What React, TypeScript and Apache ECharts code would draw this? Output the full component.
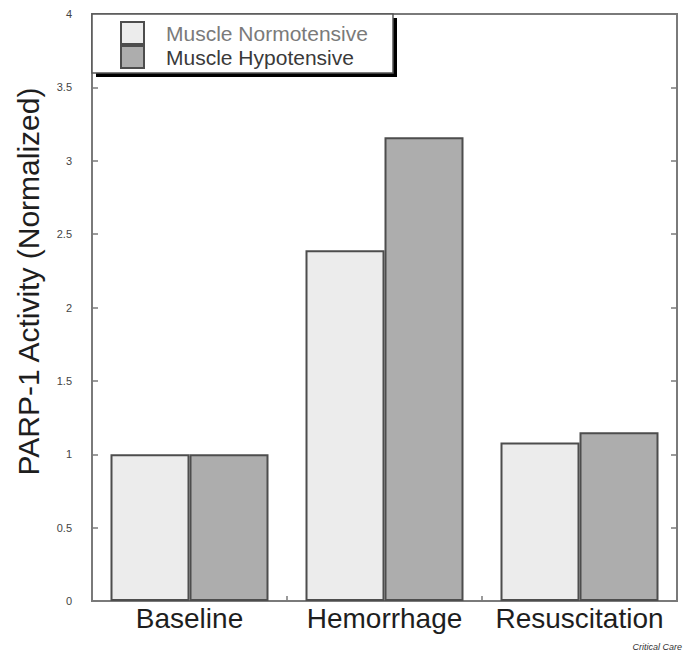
import React, { useEffect, useRef } from "react";
import * as echarts from "echarts";

const categories = ["Baseline", "Hemorrhage", "Resuscitation"];
const normotensive = [1.0, 2.39, 1.08];
const hypotensive = [1.0, 3.16, 1.15];
const yTicks = { min: 0, max: 4, interval: 0.5 };
const seriesNames = ["Muscle Normotensive", "Muscle Hypotensive"];

const FONT = '"Liberation Sans", Arial, Helvetica, sans-serif';

export default function App() {
  const ref = useRef<HTMLDivElement>(null);
  useEffect(() => {
    if (!ref.current) return;
    document.body.style.margin = "0";
    const chart = echarts.init(ref.current, undefined, { renderer: "svg" });
    const barBorder = { borderColor: "#4d4d4d", borderWidth: 2 };
    chart.setOption({
      animation: false,
      backgroundColor: "#ffffff",
      textStyle: { fontFamily: FONT },
      grid: {
        left: 92,
        right: 8,
        top: 14,
        bottom: 51,
        show: true,
        borderColor: "#7a7a7a",
        borderWidth: 2,
        backgroundColor: "transparent",
      },
      legend: {
        orient: "vertical",
        left: 120,
        top: 21,
        padding: 0,
        itemGap: 0,
        itemWidth: 23,
        itemHeight: 22,
        icon: "rect",
        z: 10,
        data: [
          { name: seriesNames[0], textStyle: { color: "#7a7a7a" } },
          { name: seriesNames[1], textStyle: { color: "#3a3a3a" } },
        ],
        textStyle: {
          fontFamily: FONT,
          fontSize: 21,
          padding: [0, 0, 0, 17],
        },
      },
      graphic: [
        {
          type: "rect",
          z: 5,
          shape: { x: 96, y: 18, width: 301, height: 59 },
          style: { fill: "#000000" },
        },
        {
          type: "rect",
          z: 6,
          shape: { x: 92, y: 14, width: 301, height: 59 },
          style: { fill: "#ffffff", stroke: "#555555", lineWidth: 1.5 },
        },
        {
          type: "text",
          x: 682,
          y: 647,
          z: 10,
          style: {
            text: "Critical Care",
            fontSize: 9,
            fontStyle: "italic",
            fontFamily: FONT,
            fill: "#333333",
            align: "right",
            verticalAlign: "middle",
          },
        },
      ],
      xAxis: {
        type: "category",
        data: categories,
        axisLine: { show: true, lineStyle: { color: "#7a7a7a", width: 2 } },
        axisTick: {
          show: true,
          inside: true,
          length: 5,
          alignWithLabel: false,
          lineStyle: { color: "#7a7a7a", width: 1.5 },
        },
        axisLabel: {
          color: "#1e1e1e",
          fontSize: 28,
          margin: 3,
          interval: 0,
          hideOverlap: false,
          fontFamily: FONT,
        },
        splitLine: { show: false },
      },
      yAxis: [
        {
          type: "value",
          min: yTicks.min,
          max: yTicks.max,
          interval: yTicks.interval,
          name: "PARP-1 Activity (Normalized)",
          nameLocation: "middle",
          nameGap: 49,
          nameTextStyle: {
            color: "#1e1e1e",
            fontSize: 30,
            fontFamily: FONT,
            padding: [0, 0, 0, 52],
          },
          axisLine: { show: true, lineStyle: { color: "#7a7a7a", width: 2 } },
          axisTick: {
            show: true,
            inside: true,
            length: 6,
            lineStyle: { color: "#7a7a7a", width: 1.5 },
          },
          axisLabel: {
            color: "#444444",
            fontSize: 11,
            margin: 20,
            fontFamily: FONT,
            formatter: (v: number) => String(v),
          },
          splitLine: { show: false },
        },
        {
          type: "value",
          position: "right",
          min: yTicks.min,
          max: yTicks.max,
          interval: yTicks.interval,
          axisLine: { show: true, lineStyle: { color: "#7a7a7a", width: 2 } },
          axisTick: {
            show: true,
            inside: true,
            length: 6,
            lineStyle: { color: "#7a7a7a", width: 1.5 },
          },
          axisLabel: { show: false },
          splitLine: { show: false },
        },
      ],
      series: [
        {
          name: seriesNames[0],
          type: "bar",
          data: normotensive,
          barWidth: 79,
          barGap: "0%",
          itemStyle: { color: "#ececec", ...barBorder },
        },
        {
          name: seriesNames[1],
          type: "bar",
          data: hypotensive,
          barWidth: 79,
          barGap: "0%",
          itemStyle: { color: "#adadad", ...barBorder },
        },
      ],
    });
    return () => chart.dispose();
  }, []);
  return <div ref={ref} style={{ width: 685, height: 652 }} />;
}
